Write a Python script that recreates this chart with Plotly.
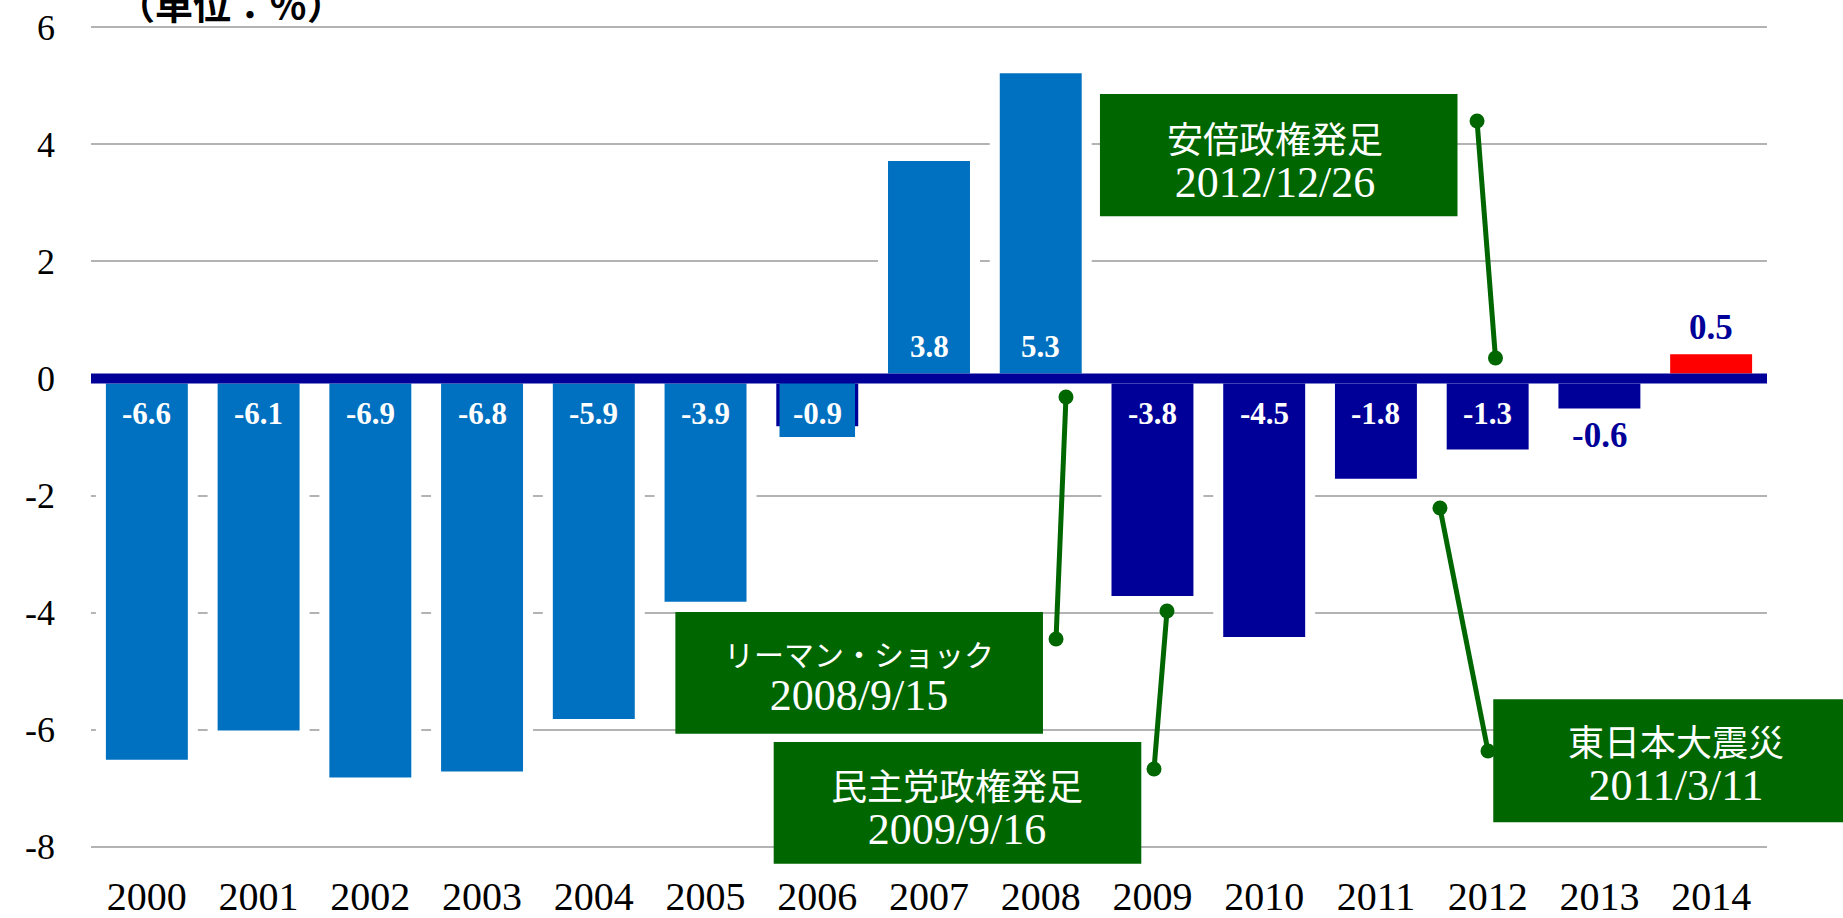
import plotly.graph_objects as go

# ---------------- data ----------------
years = ["2000", "2001", "2002", "2003", "2004", "2005", "2006", "2007",
         "2008", "2009", "2010", "2011", "2012", "2013", "2014"]
values = [-6.6, -6.1, -6.9, -6.8, -5.9, -3.9, -0.9, 3.8, 5.3,
          -3.8, -4.5, -1.8, -1.3, -0.6, 0.5]
value_labels = ["-6.6", "-6.1", "-6.9", "-6.8", "-5.9", "-3.9", "-0.9", "3.8", "5.3",
                "-3.8", "-4.5", "-1.8", "-1.3", "-0.6", "0.5"]
LIGHT, DARK, RED = "#0070C0", "#000099", "#FF0000"
bar_colors = [LIGHT] * 6 + [DARK] + [LIGHT] * 2 + [DARK] * 5 + [RED]
label_inside = [True] * 13 + [False] * 2

# the 2006 bar is shown as a light-blue bar laid over a dark one
overlay_index = [6]
overlay_values = [-1.0]

y_tickvals = [6, 4, 2, 0, -2, -4, -6, -8]
y_ticktext = ["6", "4", "2", "0", "-2", "-4", "-6", "-8"]

unit_label = "（単位：％）"

# callouts
callout_titles = ["安倍政権発足", "リーマン・ショック", "民主党政権発足", "東日本大震災"]
callout_dates = ["2012/12/26", "2008/9/15", "2009/9/16", "2011/3/11"]
callout_boxes = [(8.53, 11.73, 2.77, 4.86), (4.73, 8.02, -6.07, -3.99),
                 (5.61, 8.90, -8.29, -6.21), (12.05, 15.40, -7.58, -5.48)]
callout_text_x = [10.10, 6.37, 7.25, 13.69]
callout_text_y = [3.75, -5.08, -7.30, -6.55]
callout_title_size = [36, 30, 36, 36]
connectors = [(11.905, 4.397, 12.07, 0.35), (8.226, -0.316, 8.137, -4.449),
              (9.130, -3.971, 9.014, -6.670), (11.573, -2.212, 12.003, -6.363)]

# ---------------- figure ----------------
W, H = 1843, 918
ML, MR, MT, MB = 91, 76, 26, 70
YMIN, YMAX = -8.02, 6.02
XMIN, XMAX = -0.5, 14.5
GREEN = "#006600"
SERIF = "Liberation Serif, Times New Roman, serif"
CJK = "Noto Sans CJK JP, sans-serif"

xs = list(range(len(years)))

def xp(v):
    return (v - XMIN) / (XMAX - XMIN)

def yp(v):
    return (v - YMIN) / (YMAX - YMIN)

fig = go.Figure()

fig.add_trace(go.Bar(
    x=xs, y=values, width=0.823,
    marker=dict(color=bar_colors, line=dict(color="white", width=10)),
    hoverinfo="skip", showlegend=False,
))
fig.add_trace(go.Bar(
    x=overlay_index, y=overlay_values, width=0.676,
    marker=dict(color=LIGHT, line=dict(width=0)),
    hoverinfo="skip", showlegend=False,
))

for (x0, y0, x1, y1) in connectors:
    fig.add_trace(go.Scatter(
        x=[x0, x1], y=[y0, y1], mode="lines+markers",
        line=dict(color=GREEN, width=5),
        marker=dict(color=GREEN, size=15),
        hoverinfo="skip", showlegend=False,
    ))

shapes = []
shapes.append(dict(type="line", xref="paper", yref="y", x0=0, x1=1, y0=0, y1=0,
                   line=dict(color=DARK, width=10), layer="above"))
for (bx0, bx1, by0, by1) in callout_boxes:
    shapes.append(dict(type="rect", xref="paper", yref="paper",
                       x0=xp(bx0), x1=xp(bx1), y0=yp(by0), y1=yp(by1),
                       fillcolor=GREEN, line=dict(width=0), layer="above"))

annotations = []
for i, (v, lab, inside) in enumerate(zip(values, value_labels, label_inside)):
    if inside:
        annotations.append(dict(
            x=i, y=0, xref="x", yref="y", text=lab, showarrow=False,
            yshift=(-35 if v < 0 else 32),
            font=dict(family=SERIF, size=31, color="white", weight="bold"),
        ))
    else:
        annotations.append(dict(
            x=i, y=v, xref="x", yref="y", text=lab, showarrow=False,
            yshift=(-22 if v < 0 else 22),
            font=dict(family=SERIF, size=35, color=DARK, weight="bold"),
        ))

for t, d, tx, ty, ts in zip(callout_titles, callout_dates, callout_text_x,
                             callout_text_y, callout_title_size):
    txt = ("<span style='font-family:Noto Sans CJK JP;font-size:%dpx'>%s</span><br>"
           "<span style='font-family:Liberation Serif;font-size:44px'>%s</span>") % (ts, t, d)
    annotations.append(dict(x=xp(tx), y=yp(ty), xref="paper", yref="paper",
                            text=txt, showarrow=False, xanchor="center", yanchor="middle",
                            align="center",
                            font=dict(family=SERIF, size=34, color="white")))

annotations.append(dict(x=xp(0.757), y=1.028, xref="paper", yref="paper",
                        text=unit_label, showarrow=False, xanchor="center", yanchor="middle",
                        font=dict(family=CJK, size=38, color="black", weight="bold")))

fig.update_layout(
    width=W, height=H,
    margin=dict(l=ML, r=MR, t=MT, b=MB, pad=0),
    paper_bgcolor="white", plot_bgcolor="white",
    barmode="overlay",
    showlegend=False,
    hovermode=False,
    shapes=shapes,
    annotations=annotations,
    xaxis=dict(
        range=[XMIN, XMAX], tickmode="array", tickvals=xs, ticktext=years,
        showgrid=False, zeroline=False, showline=False, ticks="",
        tickfont=dict(family=SERIF, size=40, color="black"),
        ticklabelstandoff=21, automargin=False,
    ),
    yaxis=dict(
        range=[YMIN, YMAX], tickmode="array", tickvals=y_tickvals, ticktext=y_ticktext,
        showgrid=True, gridcolor="#B3B3B3", gridwidth=2,
        zeroline=False, showline=False, ticks="",
        tickfont=dict(family=SERIF, size=36, color="black"),
        ticklabelstandoff=35, automargin=False,
    ),
)

fig.write_html("out.html", config={"displayModeBar": False},
               post_script="document.body.style.margin='0';document.body.style.overflow='hidden';")
